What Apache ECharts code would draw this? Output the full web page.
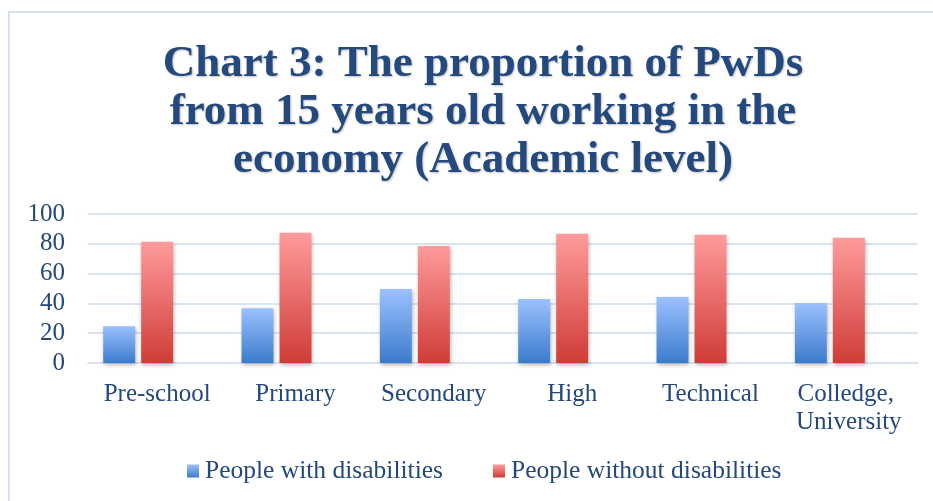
<!DOCTYPE html>
<html>
<head>
<meta charset="utf-8">
<title>Chart 3</title>
<script src="https://cdn.jsdelivr.net/npm/echarts@6/dist/echarts.min.js"></script>
<style>
  html, body { margin: 0; padding: 0; background: #ffffff; }
  #chart { width: 933px; height: 501px; }
</style>
</head>
<body>
<div id="chart"></div>
<script>
// Academic levels along the x axis
const categories = ['Pre-school', 'Primary', 'Secondary', 'High', 'Technical', 'Colledge, University'];
// Share working in the economy (%)
const withDisabilities = [24.7, 36.8, 49.7, 42.9, 44.3, 40.2];
const withoutDisabilities = [81.3, 87.4, 78.6, 86.7, 86.1, 84.0];
// Third (empty) slot in each group, keeps the two bars left of the label centre
const emptySlot = [null, null, null, null, null, null];
const seriesNames = ['People with disabilities', 'People without disabilities'];
const yTicks = [0, 20, 40, 60, 80, 100];

const textBlue = '#24487c';
const serif = '"Liberation Serif", "DejaVu Serif", serif';

function vgrad(top, bottom) {
  return new echarts.graphic.LinearGradient(0, 0, 0, 1, [
    { offset: 0, color: top },
    { offset: 1, color: bottom }
  ]);
}

const chart = echarts.init(document.getElementById('chart'), null, { renderer: 'canvas' });

const barShadow = {
  shadowBlur: 4,
  shadowColor: 'rgba(0,0,0,0.28)',
  shadowOffsetX: 1,
  shadowOffsetY: 2
};

chart.setOption({
  animation: false,
  backgroundColor: '#ffffff',
  title: {
    text: 'Chart 3: The proportion of PwDs\nfrom 15 years old working in the\neconomy (Academic level)',
    left: 478,
    top: 35,
    textAlign: 'center',
    textStyle: {
      fontFamily: serif,
      fontWeight: 'bold',
      fontSize: 45,
      lineHeight: 48,
      color: '#23497e',
      textShadowColor: 'rgba(0,0,0,0.25)',
      textShadowBlur: 2,
      textShadowOffsetX: 1,
      textShadowOffsetY: 1
    }
  },
  graphic: [
    {
      type: 'polyline',
      shape: { points: [[9, 501], [9, 12], [933, 12]] },
      style: { stroke: '#d5e1f1', lineWidth: 2, fill: null },
      silent: true
    }
  ],
  legend: {
    data: seriesNames,
    bottom: 12,
    left: 182,
    icon: 'rect',
    itemWidth: 12,
    itemHeight: 13,
    itemGap: 50,
    textStyle: { fontFamily: serif, fontSize: 25.5, color: textBlue, padding: [0, 0, 0, 1] }
  },
  grid: { left: 88, right: 15, top: 214, bottom: 138, containLabel: false },
  xAxis: {
    type: 'category',
    data: categories,
    axisLine: { show: true, lineStyle: { color: '#d9e4f2', width: 2 } },
    axisTick: { show: false },
    axisLabel: {
      fontFamily: serif,
      fontSize: 25,
      lineHeight: 28,
      color: textBlue,
      margin: 17,
      width: 134,
      overflow: 'break',
      interval: 0
    }
  },
  yAxis: {
    type: 'value',
    min: yTicks[0],
    max: yTicks[yTicks.length - 1],
    interval: yTicks[1] - yTicks[0],
    axisLine: { show: false },
    axisTick: { show: false },
    splitLine: { lineStyle: { color: '#d9e4f2', width: 2 } },
    axisLabel: {
      fontFamily: serif,
      fontSize: 25,
      color: textBlue,
      margin: 23
    }
  },
  series: [
    {
      name: seriesNames[0],
      type: 'bar',
      data: withDisabilities,
      barGap: '19%',
      barCategoryGap: '22%',
      itemStyle: Object.assign({ color: vgrad('#9cc1ff', '#3b7bcc') }, barShadow)
    },
    {
      name: seriesNames[1],
      type: 'bar',
      data: withoutDisabilities,
      itemStyle: Object.assign({ color: vgrad('#ff9b9b', '#cf3c37') }, barShadow)
    },
    {
      name: 'slot',
      type: 'bar',
      data: emptySlot,
      itemStyle: { color: 'transparent' }
    }
  ]
});
</script>
</body>
</html>
